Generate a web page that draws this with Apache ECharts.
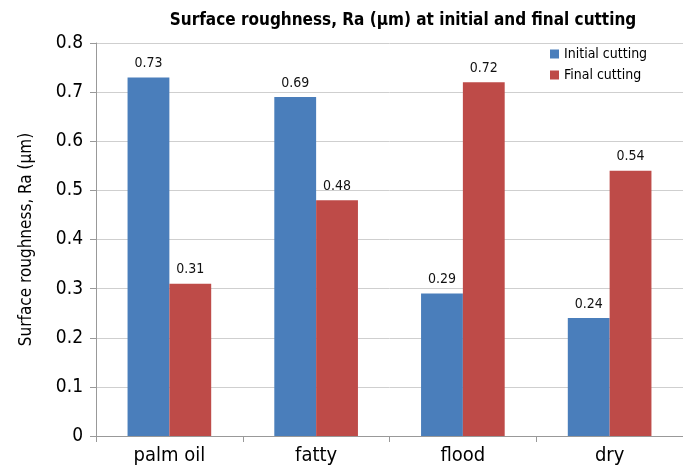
<!DOCTYPE html>
<html>
<head>
<meta charset="utf-8">
<script src="https://cdn.jsdelivr.net/npm/echarts@6/dist/echarts.min.js"></script>
<style>
  html, body { margin: 0; padding: 0; background: #fff; }
  #chart { width: 683px; height: 468px; }
</style>
</head>
<body>
<div id="chart"></div>
<script>
const categories = ['palm oil', 'fatty', 'flood', 'dry']
const initialCutting = [0.73, 0.69, 0.29, 0.24]
const finalCutting = [0.31, 0.48, 0.72, 0.54]
const yTicks = [0, 0.1, 0.2, 0.3, 0.4, 0.5, 0.6, 0.7, 0.8]

const chart = echarts.init(document.getElementById('chart'))
const font = '"DejaVu Sans Condensed", "Open Sans", sans-serif'

const labelStyle = {
  show: true,
  position: 'top',
  distance: 7,
  color: '#111',
  fontSize: 14,
  fontFamily: font,
  formatter: p => p.value.toFixed(2)
}

const options = {
  backgroundColor: '#fff',
  title: {
    text: 'Surface roughness, Ra (\u00b5m) at initial and final cutting',
    left: 398,
    textAlign: 'center',
    top: 7,
    textStyle: {
      color: '#000',
      fontSize: 17,
      fontWeight: 'bold',
      fontFamily: font
    }
  },
  legend: {
    orient: 'vertical',
    left: 545,
    top: 42,
    icon: 'rect',
    itemWidth: 9,
    itemHeight: 9,
    itemGap: 7,
    textStyle: {
      color: '#000',
      fontSize: 14,
      fontFamily: font
    },
    data: ['Initial cutting', 'Final cutting']
  },
  grid: {
    left: 96,
    right: 0,
    top: 43,
    bottom: 32
  },
  xAxis: {
    type: 'category',
    data: categories,
    axisLine: { lineStyle: { color: '#999' } },
    axisTick: { show: true, length: 6, lineStyle: { color: '#999' } },
    axisLabel: {
      color: '#000',
      fontSize: 20,
      fontFamily: font,
      margin: 10
    }
  },
  yAxis: {
    type: 'value',
    min: 0,
    max: 0.8,
    interval: 0.1,
    name: 'Surface roughness, Ra (\u00b5m)',
    nameLocation: 'middle',
    nameGap: 61,
    nameTextStyle: {
      color: '#000',
      fontSize: 17,
      fontWeight: 500,
      fontFamily: font
    },
    axisLine: { show: true, lineStyle: { color: '#999' } },
    axisTick: { show: true, length: 6, lineStyle: { color: '#999' } },
    splitLine: { lineStyle: { color: '#cfcfcf' } },
    axisLabel: {
      color: '#000',
      fontSize: 19,
      fontFamily: font,
      margin: 13,
      formatter: v => {
        const t = yTicks.find(x => Math.abs(x - v) < 1e-9)
        return t === 0 ? '0' : String(t)
      }
    }
  },
  series: [
    {
      name: 'Initial cutting',
      type: 'bar',
      data: initialCutting,
      barGap: '0%',
      barCategoryGap: '43%',
      itemStyle: { color: '#4a7ebb' },
      label: labelStyle
    },
    {
      name: 'Final cutting',
      type: 'bar',
      data: finalCutting,
      itemStyle: { color: '#be4b48' },
      label: labelStyle
    }
  ]
}

chart.setOption(options)
</script>
</body>
</html>
